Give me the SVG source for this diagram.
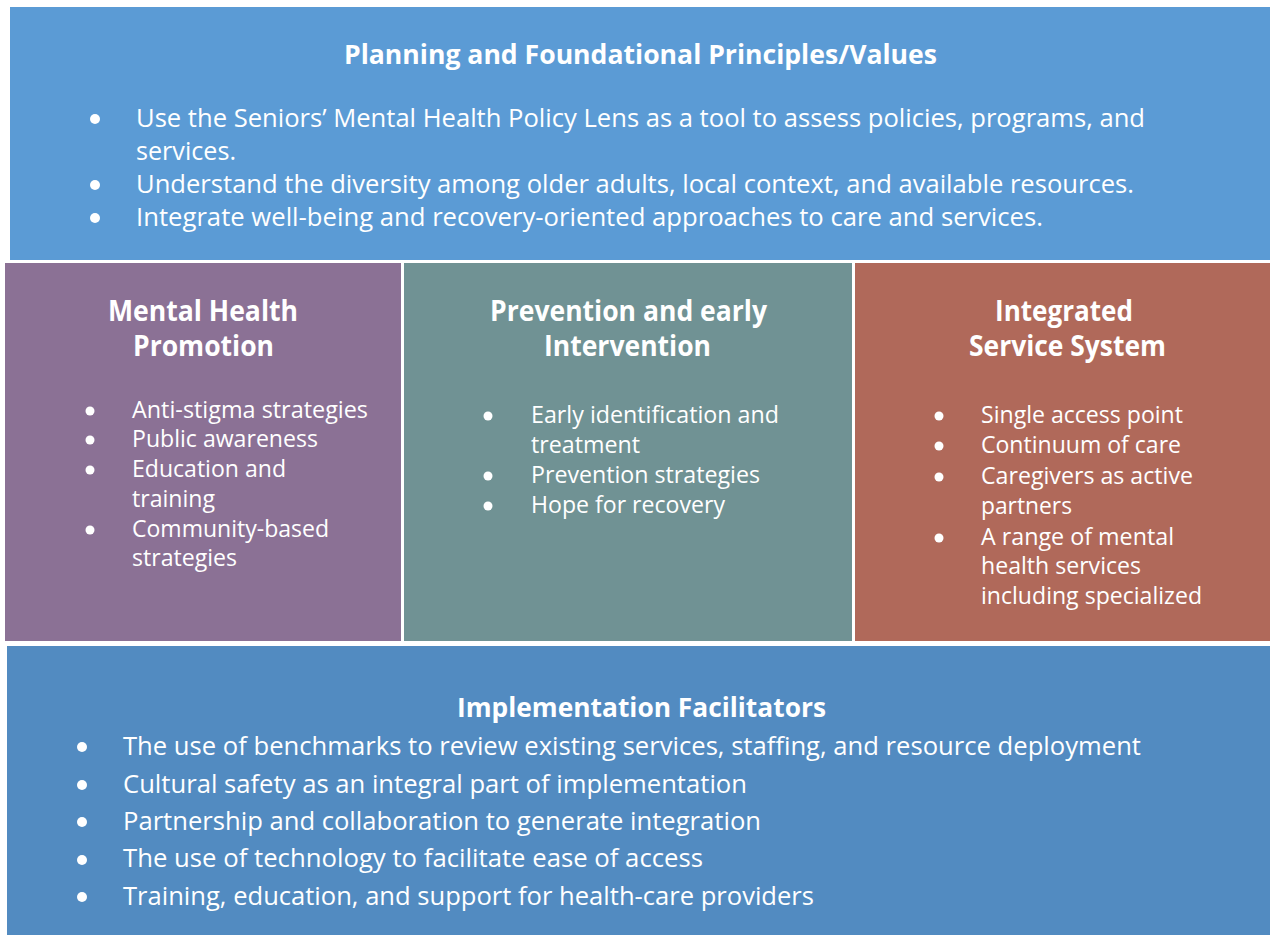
<svg xmlns="http://www.w3.org/2000/svg" width="1270" height="935" viewBox="0 0 1270 935">
<style>
text{font-family:"Open Sans","Liberation Sans",sans-serif;fill:#ffffff}
.t{font-weight:bold;font-size:26px}
.h{font-weight:bold;font-size:28px}
.b{font-size:25px}
.s{font-size:23px}
.dot{fill:#ffffff}
</style>
<rect width="1270" height="935" fill="#ffffff"/>
<g id="planning">
<rect x="10" y="7" width="1260" height="253" fill="#5B9BD5"/>
<text class="t" x="344" y="64" textLength="593" lengthAdjust="spacingAndGlyphs">Planning and Foundational Principles/Values</text>
<circle class="dot" cx="95" cy="119" r="5"/>
<circle class="dot" cx="95" cy="185" r="5"/>
<circle class="dot" cx="95" cy="218" r="5"/>
<text class="b" x="136" y="127" textLength="1009" lengthAdjust="spacingAndGlyphs">Use the Seniors’ Mental Health Policy Lens as a tool to assess policies, programs, and</text>
<text class="b" x="136" y="160" textLength="100" lengthAdjust="spacingAndGlyphs">services.</text>
<text class="b" x="136" y="193" textLength="998" lengthAdjust="spacingAndGlyphs">Understand the diversity among older adults, local context, and available resources.</text>
<text class="b" x="136" y="226" textLength="907" lengthAdjust="spacingAndGlyphs">Integrate well-being and recovery-oriented approaches to care and services.</text>
</g>
<g id="promotion">
<rect x="5" y="263" width="396" height="378" fill="#8B7195"/>
<text class="h" x="108" y="321" textLength="190" lengthAdjust="spacingAndGlyphs">Mental Health</text>
<text class="h" x="133" y="356" textLength="141" lengthAdjust="spacingAndGlyphs">Promotion</text>
<circle class="dot" cx="90" cy="411" r="4.5"/>
<circle class="dot" cx="90" cy="440" r="4.5"/>
<circle class="dot" cx="90" cy="470" r="4.5"/>
<circle class="dot" cx="90" cy="530" r="4.5"/>
<text class="s" x="132" y="418" textLength="236" lengthAdjust="spacingAndGlyphs">Anti-stigma strategies</text>
<text class="s" x="132" y="447" textLength="186" lengthAdjust="spacingAndGlyphs">Public awareness</text>
<text class="s" x="132" y="477" textLength="154" lengthAdjust="spacingAndGlyphs">Education and</text>
<text class="s" x="132" y="507" textLength="83" lengthAdjust="spacingAndGlyphs">training</text>
<text class="s" x="132" y="537" textLength="197" lengthAdjust="spacingAndGlyphs">Community-based</text>
<text class="s" x="132" y="566" textLength="105" lengthAdjust="spacingAndGlyphs">strategies</text>
</g>
<g id="prevention">
<rect x="404" y="263" width="448" height="378" fill="#709294"/>
<text class="h" x="490" y="321" textLength="277" lengthAdjust="spacingAndGlyphs">Prevention and early</text>
<text class="h" x="544" y="356" textLength="167" lengthAdjust="spacingAndGlyphs">Intervention</text>
<circle class="dot" cx="488" cy="416" r="4.5"/>
<circle class="dot" cx="488" cy="476" r="4.5"/>
<circle class="dot" cx="488" cy="506" r="4.5"/>
<text class="s" x="531" y="423" textLength="248" lengthAdjust="spacingAndGlyphs">Early identification and</text>
<text class="s" x="531" y="453" textLength="109" lengthAdjust="spacingAndGlyphs">treatment</text>
<text class="s" x="531" y="483" textLength="229" lengthAdjust="spacingAndGlyphs">Prevention strategies</text>
<text class="s" x="531" y="513" textLength="194" lengthAdjust="spacingAndGlyphs">Hope for recovery</text>
</g>
<g id="integrated">
<rect x="855" y="263" width="415" height="378" fill="#B0695A"/>
<text class="h" x="995" y="321" textLength="138" lengthAdjust="spacingAndGlyphs">Integrated</text>
<text class="h" x="969" y="356" textLength="197" lengthAdjust="spacingAndGlyphs">Service System</text>
<circle class="dot" cx="939" cy="416" r="4.5"/>
<circle class="dot" cx="939" cy="446" r="4.5"/>
<circle class="dot" cx="939" cy="477" r="4.5"/>
<circle class="dot" cx="939" cy="538" r="4.5"/>
<text class="s" x="981" y="423" textLength="202" lengthAdjust="spacingAndGlyphs">Single access point</text>
<text class="s" x="981" y="453" textLength="200" lengthAdjust="spacingAndGlyphs">Continuum of care</text>
<text class="s" x="981" y="484" textLength="212" lengthAdjust="spacingAndGlyphs">Caregivers as active</text>
<text class="s" x="981" y="514" textLength="91" lengthAdjust="spacingAndGlyphs">partners</text>
<text class="s" x="981" y="545" textLength="193" lengthAdjust="spacingAndGlyphs">A range of mental</text>
<text class="s" x="981" y="574" textLength="160" lengthAdjust="spacingAndGlyphs">health services</text>
<text class="s" x="981" y="604" textLength="221" lengthAdjust="spacingAndGlyphs">including specialized</text>
</g>
<g id="implementation">
<rect x="7" y="646" width="1263" height="289" fill="#528BC1"/>
<text class="t" x="457" y="717" textLength="369" lengthAdjust="spacingAndGlyphs">Implementation Facilitators</text>
<circle class="dot" cx="82" cy="747" r="5"/>
<circle class="dot" cx="82" cy="785" r="5"/>
<circle class="dot" cx="82" cy="822" r="5"/>
<circle class="dot" cx="82" cy="860" r="5"/>
<circle class="dot" cx="82" cy="897" r="5"/>
<text class="b" x="123" y="755" textLength="1018" lengthAdjust="spacingAndGlyphs">The use of benchmarks to review existing services, staffing, and resource deployment</text>
<text class="b" x="123" y="793" textLength="624" lengthAdjust="spacingAndGlyphs">Cultural safety as an integral part of implementation</text>
<text class="b" x="123" y="830" textLength="638" lengthAdjust="spacingAndGlyphs">Partnership and collaboration to generate integration</text>
<text class="b" x="123" y="867" textLength="580" lengthAdjust="spacingAndGlyphs">The use of technology to facilitate ease of access</text>
<text class="b" x="123" y="905" textLength="691" lengthAdjust="spacingAndGlyphs">Training, education, and support for health-care providers</text>
</g>
<g id="connectors"></g>
</svg>
